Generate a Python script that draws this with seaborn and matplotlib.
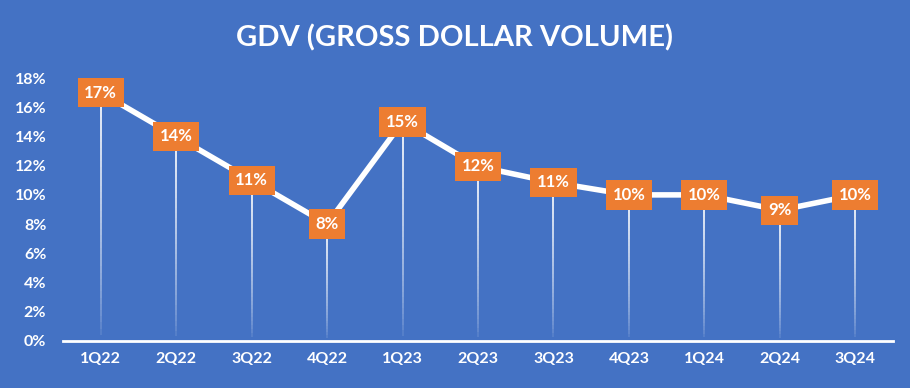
import matplotlib
matplotlib.use("Agg")
import matplotlib.pyplot as plt
from matplotlib.collections import LineCollection
import numpy as np
import pandas as pd
import seaborn as sns

quarters = ["1Q22", "2Q22", "3Q22", "4Q22", "1Q23", "2Q23", "3Q23", "4Q23", "1Q24", "2Q24", "3Q24"]
gdv_pct = [17.0, 14.0, 11.0, 8.0, 15.0, 11.95, 10.85, 10.0, 10.0, 8.95, 10.0]
y_ticks = [0, 2, 4, 6, 8, 10, 12, 14, 16, 18]

BG = "#4472C4"
ORANGE = "#ED7D31"

sns.set_theme(style="white")
plt.rcParams["font.family"] = ["Lato", "DejaVu Sans"]

df = pd.DataFrame({"quarter": quarters, "gdv": gdv_pct})
df["x"] = np.arange(len(df))

fig = plt.figure(figsize=(9.1, 3.88), dpi=100, facecolor=BG)
ax = fig.add_axes([63 / 910, 47 / 388, 830 / 910, 263 / 388])
ax.set_facecolor(BG)

# drop lines fading toward the axis
for x, y in zip(df["x"], df["gdv"]):
    n = 40
    ys = np.linspace(y, 0, n + 1)
    segs = [[(x, ys[i]), (x, ys[i + 1])] for i in range(n)]
    alphas = np.linspace(0.95, 0.0, n) ** 0.6
    colors = [(1, 1, 1, a) for a in alphas]
    ax.add_collection(LineCollection(segs, colors=colors, linewidths=1.3, zorder=1))

sns.lineplot(data=df, x="x", y="gdv", ax=ax, color="white", linewidth=4, zorder=2)

for x, y in zip(df["x"], df["gdv"]):
    ax.text(x, y, f"{round(y):.0f}%", ha="center", va="center", color="white",
            fontsize=12, fontweight="bold", zorder=3,
            bbox=dict(boxstyle="square,pad=0.4", fc=ORANGE, ec="none"))

ax.set_xlim(-0.5, len(df) - 0.5)
ax.set_ylim(0, 18)
ax.set_xticks(df["x"])
ax.set_xticklabels(quarters)
ax.set_yticks(y_ticks)
ax.set_yticklabels([f"{t}%" for t in y_ticks])
ax.tick_params(axis="both", colors="white", labelsize=11.5, length=0)
ax.tick_params(axis="x", pad=8)
ax.tick_params(axis="y", pad=12)
for lab in ax.get_xticklabels() + ax.get_yticklabels():
    lab.set_fontweight("bold")
ax.set_xlabel("")
ax.set_ylabel("")
for side in ["top", "right", "left"]:
    ax.spines[side].set_visible(False)
ax.spines["bottom"].set_color("white")
ax.spines["bottom"].set_linewidth(2)

fig.text(0.5, 1 - 38 / 388, "GDV (GROSS DOLLAR VOLUME)", ha="center", va="center",
         color="white", fontsize=21, fontweight="bold")

fig.savefig("out.png", dpi=100, facecolor=BG)
